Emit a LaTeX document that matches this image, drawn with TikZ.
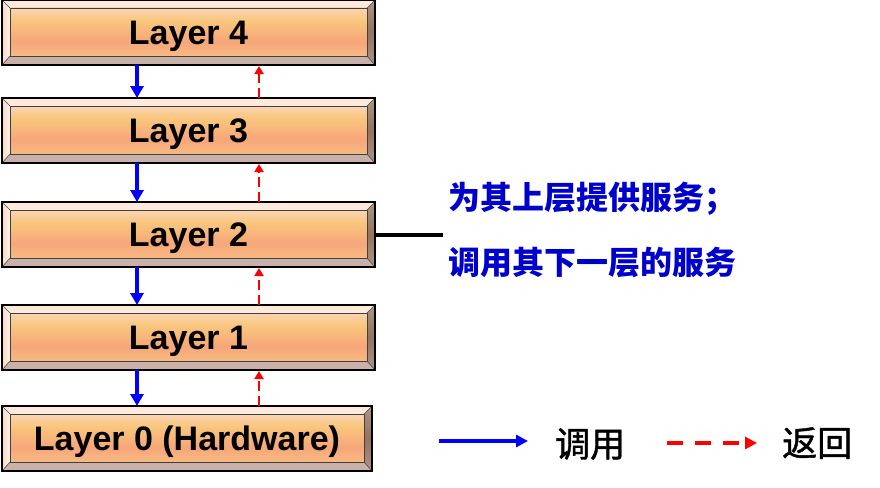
\documentclass[tikz,border=0pt]{standalone}
\usepackage{fontspec}
\setsansfont{Liberation Sans}
\newfontfamily\cjk{Noto Sans CJK SC}
\newfontfamily\cjkleg{Noto Sans CJK SC}[FakeBold=1.2]
\usetikzlibrary{arrows.meta,calc}
\definecolor{bevtop}{HTML}{FDEADC}
\definecolor{bevbot}{HTML}{C9B1A9}
\definecolor{bevl1}{HTML}{FAD8C4}
\definecolor{bevl2}{HTML}{FFF4EC}
\definecolor{bevr1}{HTML}{AC9585}
\definecolor{bevr2}{HTML}{94725E}
\definecolor{sh0}{HTML}{FCE8C4}
\definecolor{sh1}{HTML}{F9CB88}
\definecolor{sh2}{HTML}{F6A67A}
\definecolor{sh3}{HTML}{F9C67C}
\definecolor{sh4}{HTML}{FCE2EC}
\definecolor{sidetext}{RGB}{0,0,204}
\definecolor{callblue}{RGB}{0,0,255}
\definecolor{retred}{RGB}{255,0,0}
\pgfdeclareverticalshading{layershade}{100bp}{color(0bp)=(sh0); color(12bp)=(sh1); color(40bp)=(sh2); color(62bp)=(sh3); color(88bp)=(sh4); color(100bp)=(sh4)}
\tikzset{
  layerbox/.style={minimum width=373pt, minimum height=65pt, inner sep=0pt, outer sep=0pt,
    text depth=0pt, draw=black, line width=1.5pt,
    font=\sffamily\bfseries\fontsize{34}{34}\selectfont,
    path picture={
      \path (path picture bounding box.north west) coordinate (pnw)
            (path picture bounding box.south east) coordinate (pse);
      \coordinate (pne) at (pse |- pnw);
      \coordinate (psw) at (pnw |- pse);
      \coordinate (inw) at ($(pnw)+(8pt,-8pt)$);
      \coordinate (ise) at ($(pse)+(-8pt,9pt)$);
      \coordinate (ine) at (ise |- inw);
      \coordinate (isw) at (inw |- ise);
      \fill[bevtop] (pnw) -- (pne) -- (ine) -- (inw) -- cycle;
      \fill[bevbot] (psw) -- (pse) -- (ise) -- (isw) -- cycle;
      \shade[left color=bevl1, right color=bevl2] (pnw) -- (inw) -- (isw) -- (psw) -- cycle;
      \shade[top color=bevr1, bottom color=bevr1, middle color=bevr2] (pne) -- (ine) -- (ise) -- (pse) -- cycle;
      \shade[shading=layershade, draw=black!75, line width=0.8pt] (inw) rectangle (ise);
      \draw[black!70, line width=0.6pt] (pnw) -- (inw) (pne) -- (ine) (pse) -- (ise) (psw) -- (isw);
    }},
  callarrow/.style={draw=callblue, line width=3.5pt, -{Triangle[width=13pt,length=12pt]}},
  retarrow/.style={draw=retred, line width=2.5pt, dash pattern=on 10pt off 5pt, -{Triangle[width=9pt,length=8pt]}},
  legcall/.style={draw=callblue, line width=4pt, -{Triangle[width=12pt,length=12pt]}},
  legret/.style={draw=retred, line width=4pt, dash pattern=on 16pt off 12pt, -{Triangle[width=12pt,length=12pt]}},
  sidetxt/.style={anchor=west, inner sep=0pt, text=sidetext, font=\cjk\bfseries\fontsize{32}{32}\selectfont},
  legtxt/.style={anchor=west, inner sep=0pt, text=black, font=\cjkleg\fontsize{35}{35}\selectfont}
}
\begin{document}
\begin{tikzpicture}[x=1pt,y=-1pt]
\useasboundingbox (0,0) rectangle (880,487);
\fill[white] (0,0) rectangle (880,487);
\node[layerbox] (L4) at (188.5,32.5) {Layer 4};
\node[layerbox] (L3) at (188.5,130.5) {Layer 3};
\node[layerbox] (L2) at (188.5,234.5) {Layer 2};
\node[layerbox] (L1) at (188.5,337.5) {Layer 1};
\node[layerbox, minimum width=370pt] (L0) at (187,438.5) {Layer 0 (Hardware)};
\foreach \a/\b in {L4/L3, L3/L2, L2/L1}{
  \draw[callarrow] ([xshift=-51.5pt]\a.south) -- ([xshift=-51.5pt]\b.north);
  \draw[retarrow] ([xshift=70.5pt]\b.north) -- ([xshift=70.5pt,yshift=-1pt]\a.south);
}
\draw[callarrow] ([xshift=-51.5pt]L1.south) -- ([xshift=-50pt]L0.north);
\draw[retarrow] ([xshift=72pt]L0.north) -- ([xshift=70.5pt,yshift=-1pt]L1.south);
\coordinate (cend) at (443,234.5);
\draw[line width=4pt] (L2.east) -- (cend);
\node[sidetxt] (d1) at (448,199) {为其上层提供服务；};
\node[sidetxt] (d2) at (448,263) {调用其下一层的服务};
\coordinate (lc1) at (439,441);
\coordinate (lc2) at (528,441);
\draw[legcall] (lc1) -- (lc2);
\node[legtxt] (t1) at (555,444) {调用};
\coordinate (lr1) at (667,443);
\coordinate (lr2) at (757,443);
\draw[legret] (lr1) -- (lr2);
\node[legtxt] (t2) at (782,443) {返回};
\end{tikzpicture}
\end{document}
